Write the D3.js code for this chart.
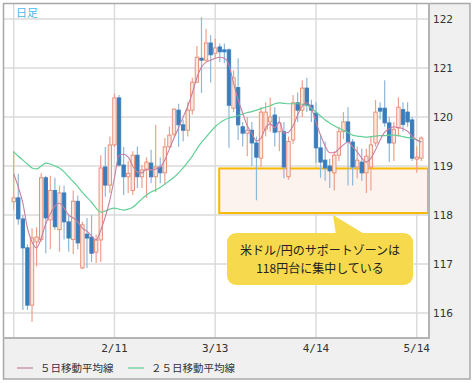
<!DOCTYPE html>
<html>
<head>
<meta charset="utf-8">
<script src="https://cdn.jsdelivr.net/npm/d3@7"></script>
<style>
  body { margin: 0; background: #fff; }
  svg { display: block; }
</style>
</head>
<body>
<svg id="svg"></svg>
<script>
const svgWidth = 473;
const svgHeight = 383;

// trading days, 2015
const dates = [
  "1/12","1/13","1/14","1/15","1/16","1/19","1/20","1/21","1/22","1/23",
  "1/26","1/27","1/28","1/29","1/30","2/2","2/3","2/4","2/5","2/6",
  "2/9","2/10","2/11","2/12","2/13","2/16","2/17","2/18","2/19","2/20",
  "2/23","2/24","2/25","2/26","2/27","3/2","3/3","3/4","3/5","3/6",
  "3/9","3/10","3/11","3/12","3/13","3/16","3/17","3/18","3/19","3/20",
  "3/23","3/24","3/25","3/26","3/27","3/30","3/31","4/1","4/2","4/3",
  "4/6","4/7","4/8","4/9","4/10","4/13","4/14","4/15","4/16","4/17",
  "4/20","4/21","4/22","4/23","4/24","4/27","4/28","4/29","4/30","5/1",
  "5/4","5/5","5/6","5/7","5/8","5/11","5/12","5/13","5/14","5/15"
];

const openPrices = [
  118.27,118.35,117.92,117.33,116.16,117.45,117.50,118.76,117.90,118.50,
  117.70,118.45,117.86,117.50,118.28,116.92,117.61,117.55,117.24,117.49,
  118.98,118.61,119.43,120.39,119.02,118.78,118.50,119.22,118.78,118.92,
  119.06,118.78,118.98,118.86,119.39,119.65,120.14,119.84,119.73,120.14,
  120.71,121.20,121.16,121.51,121.30,121.43,121.37,121.37,120.18,120.60,
  119.80,119.67,119.73,119.47,119.16,119.75,119.90,120.04,119.70,119.70,
  118.78,119.53,120.29,120.14,120.59,120.24,120.08,119.37,119.12,119.00,
  118.86,119.22,119.70,119.90,119.49,118.98,119.08,118.86,118.98,119.47,
  120.18,120.18,119.88,119.47,119.78,120.15,120.10,119.94,119.14,119.16
];
const highPrices = [
  119.30,118.84,118.00,117.40,117.73,117.75,118.85,118.80,118.80,118.76,
  118.60,118.60,117.98,118.50,118.40,117.86,117.94,118.00,117.60,119.22,
  119.39,119.60,120.48,120.45,119.39,119.10,119.30,119.40,119.02,119.18,
  119.33,119.84,119.18,119.57,119.80,120.18,120.27,119.95,120.30,120.80,
  121.45,122.04,121.80,121.67,121.60,121.50,121.50,121.40,120.95,121.20,
  119.90,120.00,119.90,119.60,120.20,120.30,120.40,120.20,120.00,119.90,
  119.60,120.45,120.50,120.75,120.80,120.35,120.30,119.65,119.50,119.15,
  119.30,119.80,120.10,120.20,119.55,119.40,119.35,119.35,119.60,120.35,
  120.30,120.75,120.00,119.90,120.40,120.30,120.30,120.00,119.40,119.60
];
const lowPrices = [
  118.10,117.80,116.06,116.06,115.82,116.95,117.45,117.22,117.30,117.70,
  117.25,117.50,117.25,117.20,117.30,116.90,116.92,117.04,117.02,117.04,
  118.37,118.45,119.39,118.98,118.41,118.45,118.41,118.55,118.55,118.35,
  118.65,118.47,118.65,118.61,119.37,119.60,119.39,119.50,119.60,120.05,
  120.70,120.49,121.15,120.70,121.20,121.12,121.10,119.37,120.10,119.53,
  119.40,119.20,119.00,118.30,118.98,119.60,119.70,119.40,119.30,118.75,
  118.72,119.45,119.90,120.00,120.10,119.90,119.06,118.76,118.70,118.55,
  118.50,119.10,119.55,118.60,118.60,118.75,118.70,118.45,118.50,119.40,
  119.95,119.80,119.08,119.10,119.60,119.70,119.80,119.10,118.86,119.10
];
const closePrices = [
  118.35,117.92,117.33,116.16,117.53,117.55,118.76,117.94,118.50,117.76,
  118.45,117.86,117.53,118.28,117.43,117.80,117.53,117.22,117.49,118.96,
  118.61,119.43,120.39,119.02,118.78,118.85,119.22,118.78,118.92,119.08,
  118.78,118.98,118.86,119.39,119.63,120.16,119.84,119.73,120.14,120.71,
  121.22,121.16,121.51,121.27,121.41,121.33,121.33,120.24,120.80,119.84,
  119.67,119.73,119.47,119.18,120.10,120.10,120.00,119.69,119.88,118.98,
  119.50,120.29,120.14,120.59,120.24,120.14,119.37,119.08,118.96,118.90,
  119.22,119.70,119.90,119.50,118.98,119.12,118.86,119.20,119.43,120.10,
  120.12,119.88,119.47,119.75,120.20,119.85,119.90,119.16,119.18,119.57
];

// moving averages
const ma5 = [
  118.84,118.57,118.24,117.73,117.45,117.33,117.53,117.82,118.02,118.18,
  118.24,118.14,118.00,117.94,117.86,117.73,117.67,117.57,117.49,117.69,
  117.96,118.31,118.76,119.22,119.24,119.18,119.00,118.88,118.86,118.94,
  118.92,118.94,118.98,119.12,119.35,119.57,119.78,120.00,120.22,120.49,
  120.80,121.02,121.12,121.16,121.20,121.22,121.20,121.06,120.69,120.35,
  120.08,119.82,119.67,119.51,119.57,119.78,119.86,119.78,119.90,119.67,
  119.69,119.82,120.04,120.22,120.29,120.18,119.90,119.63,119.41,119.27,
  119.27,119.35,119.43,119.49,119.39,119.29,119.16,119.08,119.16,119.33,
  119.53,119.69,119.76,119.80,119.78,119.76,119.71,119.61,119.53,119.49
];
const ma25 = [
  119.29,119.20,119.12,119.04,118.96,118.94,119.00,119.06,119.04,119.00,
  118.96,118.88,118.78,118.68,118.58,118.46,118.36,118.26,118.14,118.06,
  118.08,118.12,118.14,118.12,118.10,118.12,118.16,118.24,118.33,118.41,
  118.47,118.51,118.56,118.63,118.70,118.77,118.86,118.96,119.08,119.20,
  119.35,119.48,119.59,119.70,119.80,119.88,119.94,119.98,120.00,120.03,
  120.06,120.09,120.11,120.14,120.17,120.20,120.23,120.27,120.29,120.28,
  120.27,120.27,120.27,120.26,120.24,120.18,120.10,120.02,119.94,119.88,
  119.82,119.77,119.73,119.68,119.63,119.61,119.60,119.59,119.60,119.61,
  119.62,119.62,119.63,119.63,119.62,119.60,119.58,119.57,119.53,119.49
];

const priceTicks = [116, 117, 118, 119, 120, 121, 122];
const dateTicks = ["2/11", "3/13", "4/14", "5/14"];
const gridDates = ["1/12", "2/11", "3/13", "4/14", "5/14"];
const supportZone = [118.04, 118.95];
const supportFrom = "3/13";
const calloutLines = ["米ドル/円のサポートゾーンは", "118円台に集中している"];
const legendItems = [
  { label: "５日移動平均線", color: "#c77fa0" },
  { label: "２５日移動平均線", color: "#62cf97" }
];

const upStroke = "#e58a70", upFill = "#fde8e1", upWick = "#eea08c";
const downFill = "#3b7dbb", downWick = "#8fb7da";

const plot = { left: 4, right: 429, top: 4, bottom: 338 };

let svg = d3.select("#svg").attr("width", svgWidth).attr("height", svgHeight);

const step = 4.58;
const xScale = d3.scaleBand()
  .domain(dates)
  .range([13.7 - step / 2, 13.7 - step / 2 + step * dates.length]);
const xc = d => xScale(d) + xScale.bandwidth() / 2;

const yScale = d3.scaleLinear().domain([116, 122]).range([313, 19]);

// frame
svg.append("rect").attr("x", 0).attr("y", 0).attr("width", svgWidth).attr("height", svgHeight).attr("fill", "#fff");
svg.append("rect").attr("x", plot.right).attr("y", 3).attr("width", 470 - plot.right).attr("height", plot.bottom - 3).attr("fill", "#f0f0f0");
svg.append("rect").attr("x", 3).attr("y", plot.bottom).attr("width", 467).attr("height", 379 - plot.bottom).attr("fill", "#f0f0f0");

const chart = svg.append("g");

// grid
chart.selectAll(".hgrid").data(priceTicks).join("line")
  .attr("x1", plot.left).attr("x2", plot.right)
  .attr("y1", d => yScale(d)).attr("y2", d => yScale(d))
  .attr("stroke", "#dadada").attr("stroke-width", 1.4);
chart.selectAll(".vgrid").data(gridDates).join("line")
  .attr("x1", d => xc(d)).attr("x2", d => xc(d))
  .attr("y1", plot.top).attr("y2", plot.bottom)
  .attr("stroke", "#dadada").attr("stroke-width", 1.4);

// support zone
chart.append("rect")
  .attr("x", xc(supportFrom) + 4)
  .attr("y", yScale(supportZone[1]))
  .attr("width", plot.right - 1 - (xc(supportFrom) + 4))
  .attr("height", yScale(supportZone[0]) - yScale(supportZone[1]))
  .attr("fill", "#fdf3ee")
  .attr("stroke", "#f6b800")
  .attr("stroke-width", 2);

// candles
const candles = dates.map((d, i) => ({
  date: d, o: openPrices[i], h: highPrices[i], l: lowPrices[i], c: closePrices[i]
}));
const bodyW = 3.4;
const cg = chart.append("g");
cg.selectAll(".wick").data(candles).join("line")
  .attr("x1", d => xc(d.date)).attr("x2", d => xc(d.date))
  .attr("y1", d => yScale(d.h)).attr("y2", d => yScale(d.l))
  .attr("stroke", d => d.c >= d.o ? upWick : downWick)
  .attr("stroke-width", 1.2);
cg.selectAll(".body").data(candles).join("rect")
  .attr("x", d => xc(d.date) - bodyW / 2)
  .attr("width", bodyW)
  .attr("y", d => yScale(Math.max(d.o, d.c)))
  .attr("height", d => Math.max(1, Math.abs(yScale(d.o) - yScale(d.c))))
  .attr("fill", d => d.c >= d.o ? upFill : downFill)
  .attr("stroke", d => d.c >= d.o ? upStroke : downFill)
  .attr("stroke-width", 0.9);

// moving averages
const line = d3.line().x((d, i) => xc(dates[i])).y(d => yScale(d)).curve(d3.curveMonotoneX);
chart.append("path").datum(ma25).attr("d", line).attr("fill", "none")
  .attr("stroke", legendItems[1].color).attr("stroke-width", 1.2);
chart.append("path").datum(ma5).attr("d", line).attr("fill", "none")
  .attr("stroke", legendItems[0].color).attr("stroke-width", 1.1);

// borders
svg.append("rect").attr("x", 3.5).attr("y", 3.5).attr("width", 466.5).attr("height", 375.5)
  .attr("fill", "none").attr("stroke", "#a8a8a8").attr("stroke-width", 1.5);
svg.append("line").attr("x1", plot.right).attr("x2", plot.right).attr("y1", 3).attr("y2", plot.bottom + 1)
  .attr("stroke", "#b4b4b4").attr("stroke-width", 2);
svg.append("line").attr("x1", 3).attr("x2", plot.right + 1).attr("y1", plot.bottom).attr("y2", plot.bottom)
  .attr("stroke", "#b4b4b4").attr("stroke-width", 2);

// right axis
const yAxis = d3.axisRight(yScale).tickValues(priceTicks).tickFormat(d3.format("d")).tickSize(0).tickPadding(4);
svg.append("g").attr("transform", `translate(${plot.right},0)`).call(yAxis)
  .call(g => g.select(".domain").remove())
  .call(g => g.selectAll("text").attr("fill", "#333").style("font-family", "'DejaVu Sans', sans-serif").style("font-size", "10.5px"));

// bottom axis
const xAxis = d3.axisBottom(xScale).tickValues(dateTicks).tickSize(0).tickPadding(6);
svg.append("g").attr("transform", `translate(0,${plot.bottom})`).call(xAxis)
  .call(g => g.select(".domain").remove())
  .call(g => g.selectAll("text").attr("fill", "#333").style("font-family", "'DejaVu Sans Mono', monospace").style("font-size", "11px"));

// title
svg.append("text").attr("x", 16).attr("y", 17)
  .style("font-family", "'Noto Sans CJK JP', sans-serif").style("font-size", "11px")
  .attr("fill", "#4fb8ea").text("日足");

// legend
const legend = svg.append("g").attr("transform", `translate(0,368)`);
const legendX = [17, 128];
legendItems.forEach((item, i) => {
  legend.append("line").attr("x1", legendX[i]).attr("x2", legendX[i] + 16).attr("y1", 0).attr("y2", 0)
    .attr("stroke", item.color).attr("stroke-width", 1.2);
  legend.append("text").attr("x", legendX[i] + 23).attr("y", 4)
    .style("font-family", "'Noto Sans CJK JP', sans-serif").style("font-size", "10.5px")
    .attr("fill", "#333").text(item.label);
});

// callout
const callout = svg.append("g");
const cx0 = 227, cy0 = 233, cw = 186, ch = 52;
callout.append("path")
  .attr("d", `M${333},${yScale(supportZone[0]) + 2} L${336},${cy0 + 2} L${366},${cy0 + 2} Z`)
  .attr("fill", "#f7d94e");
callout.append("rect").attr("x", cx0).attr("y", cy0).attr("width", cw).attr("height", ch)
  .attr("rx", 9).attr("fill", "#f7d94e");
calloutLines.forEach((t, i) => {
  callout.append("text").attr("x", cx0 + cw / 2).attr("y", cy0 + 22 + i * 18)
    .attr("text-anchor", "middle")
    .style("font-family", "'Noto Sans CJK JP', sans-serif").style("font-size", "12px")
    .attr("fill", "#222").text(t);
});
</script>
</body>
</html>
